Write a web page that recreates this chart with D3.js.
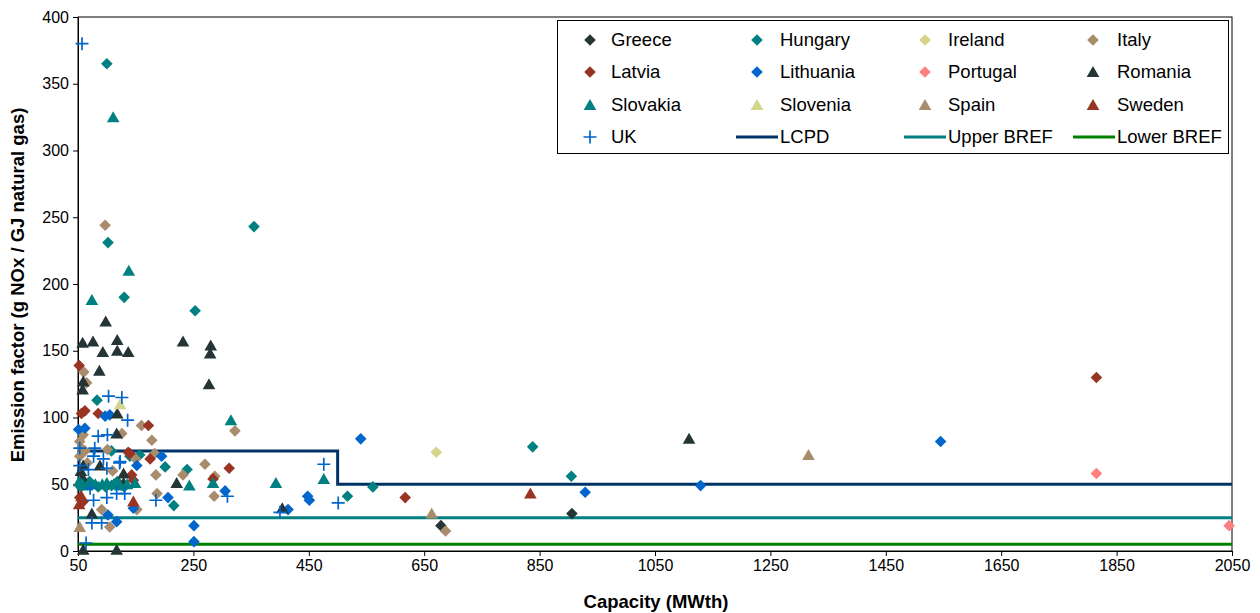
<!DOCTYPE html>
<html>
<head>
<meta charset="utf-8">
<script src="https://cdn.jsdelivr.net/npm/d3@7"></script>
<style>
  html, body { margin: 0; padding: 0; background: #fff; }
  svg { display: block; font-family: Arial, "Liberation Sans", sans-serif; }
</style>
</head>
<body>
<svg id="chart" width="1260" height="613"></svg>
<script>
// ---- Data (capacity MWth, emission factor g NOx/GJ) ----
const xTicks = [50, 250, 450, 650, 850, 1050, 1250, 1450, 1650, 1850, 2050];
const yTicks = [0, 50, 100, 150, 200, 250, 300, 350, 400];

const greece = [[906, 28], [679, 19]];
const hungary = [[100, 365], [102, 231], [130, 190], [253, 180], [355, 243], [83, 113], [108, 75], [157, 72],
  [140, 71], [201, 63], [239, 61], [216, 34], [517, 41], [561, 48], [838, 78], [905, 56],
  [55, 48], [70, 52], [85, 48], [98, 48], [108, 49], [130, 48], [62, 51], [118, 52]];
const ireland = [[671, 74]];
const italy = [[60, 134], [65, 126], [126, 88], [59, 87], [53, 82], [160, 94], [178, 83], [62, 75], [101, 76],
  [56, 77], [53, 71], [183, 73], [185, 57], [187, 43], [270, 65], [232, 57], [287, 56], [286, 41],
  [152, 31], [91, 31], [105, 18], [322, 90], [97, 244], [687, 15], [150, 69], [66, 66], [110, 60]];
const latvia = [[52, 139], [62, 105], [56, 103], [85, 103], [172, 94], [137, 74], [140, 73], [175, 69],
  [143, 57], [146, 53], [312, 62], [53, 40], [59, 37], [617, 40], [1815, 130], [284, 54]];
const lithuania = [[51, 91], [62, 92], [97, 101], [105, 102], [195, 71], [152, 64], [146, 32], [102, 27],
  [117, 22], [206, 40], [305, 45], [251, 19], [251, 7], [448, 41], [451, 38], [414, 31], [540, 84],
  [929, 44], [1129, 49], [1545, 82]];
const portugal = [[1815, 58], [2045, 19]];
const romania = [[87, 135], [59, 127], [58, 121], [98, 172], [58, 156], [76, 157], [93, 149], [118, 158],
  [118, 150], [137, 149], [232, 157], [280, 154], [279, 148], [277, 125], [118, 103], [117, 88],
  [59, 64], [88, 64], [129, 58], [129, 51], [221, 51], [74, 28], [59, 1], [117, 1], [404, 32],
  [1109, 84], [55, 60], [58, 55]];
const slovakia = [[111, 325], [138, 210], [74, 188], [315, 98], [393, 51], [476, 54], [243, 49], [284, 51],
  [149, 51], [52, 52], [58, 50], [66, 49], [80, 50], [92, 50], [100, 51], [112, 50], [123, 49], [135, 50]];
const slovenia = [[123, 110]];
const spain = [[53, 18], [663, 28], [1316, 72]];
const sweden = [[56, 41], [146, 37], [834, 43], [52, 35]];
const uk = [[57, 380], [103, 116], [126, 115], [85, 86], [101, 87], [136, 98], [53, 77], [79, 77], [53, 64],
  [77, 71], [94, 69], [122, 66], [68, 61], [100, 62], [71, 47], [131, 43], [117, 43], [100, 40],
  [77, 38], [185, 38], [74, 21], [91, 21], [64, 6], [309, 41], [476, 65], [501, 36], [400, 29], [123, 67]];

const lcpd = [[50, 75], [500, 75], [500, 50], [2050, 50]];
const upperBref = [[50, 25], [2050, 25]];
const lowerBref = [[50, 5], [2050, 5]];

const seriesNames = ["Greece", "Hungary", "Ireland", "Italy", "Latvia", "Lithuania", "Portugal", "Romania",
  "Slovakia", "Slovenia", "Spain", "Sweden", "UK"];
const seriesData = [greece, hungary, ireland, italy, latvia, lithuania, portugal, romania,
  slovakia, slovenia, spain, sweden, uk];
const seriesShapes = ["diamond", "diamond", "diamond", "diamond", "diamond", "diamond", "diamond", "triangle",
  "triangle", "triangle", "triangle", "triangle", "cross"];
const seriesColors = ["#253535", "#008080", "#d4d48a", "#a88c6c", "#993322", "#0066cc", "#ff8080", "#253535",
  "#008080", "#d4d48a", "#a88c6c", "#993322", "#0066cc"];

const lineNames = ["LCPD", "Upper BREF", "Lower BREF"];
const lineData = [lcpd, upperBref, lowerBref];
const lineColors = ["#003366", "#008080", "#008000"];

// ---- Layout ----
const svg = d3.select("#chart");
const L = 78, R = 1232, T = 17, B = 551;
const x = d3.scaleLinear().domain([50, 2050]).range([L, R]);
const y = d3.scaleLinear().domain([0, 400]).range([B, T]);

function shapePath(shape) {
  if (shape === "diamond") return "M0,-5.8L5.8,0L0,5.8L-5.8,0Z";
  if (shape === "triangle") return "M0,-6L6.3,5L-6.3,5Z";
  return "M-6.5,0H6.5M0,-6.5V6.5";
}

// plot border
svg.append("rect").attr("x", L).attr("y", T).attr("width", R - L).attr("height", B - T)
  .attr("fill", "none").attr("stroke", "#000").attr("stroke-width", 1);

// axes
const xAxis = svg.append("g").attr("transform", `translate(0,${B})`)
  .call(d3.axisBottom(x).tickValues(xTicks).tickSize(5).tickPadding(4).tickFormat(d3.format("d")));
const yAxis = svg.append("g").attr("transform", `translate(${L},0)`)
  .call(d3.axisLeft(y).tickValues(yTicks).tickSize(5).tickPadding(4).tickFormat(d3.format("d")));
[xAxis, yAxis].forEach(g => {
  g.selectAll("path.domain").attr("stroke", "#000");
  g.selectAll("line").attr("stroke", "#000");
  g.selectAll("text").attr("font-size", 16).attr("fill", "#000")
    .attr("font-family", "Arial, 'Liberation Sans', sans-serif");
});

// axis titles
svg.append("text").attr("x", 656).attr("y", 608).attr("text-anchor", "middle")
  .attr("font-size", 18.5).attr("font-weight", "bold").text("Capacity (MWth)");
svg.append("text").attr("transform", `translate(24,${(T + B) / 2 + 1}) rotate(-90)`).attr("text-anchor", "middle")
  .attr("font-size", 18.5).attr("font-weight", "bold").text("Emission factor (g NOx / GJ natural gas)");

// reference lines
const line = d3.line().x(d => x(d[0])).y(d => y(d[1]));
lineData.forEach((d, i) => {
  svg.append("path").datum(d).attr("d", line).attr("fill", "none")
    .attr("stroke", lineColors[i]).attr("stroke-width", 3);
});

// markers
seriesData.forEach((data, i) => {
  const shape = seriesShapes[i];
  const g = svg.append("g");
  g.selectAll("path").data(data).join("path")
    .attr("transform", d => `translate(${x(d[0])},${y(d[1])})`)
    .attr("d", shapePath(shape))
    .attr("fill", shape === "cross" ? "none" : seriesColors[i])
    .attr("stroke", shape === "cross" ? seriesColors[i] : "none")
    .attr("stroke-width", shape === "cross" ? 1.7 : 0);
});

// legend
const lg = svg.append("g");
lg.append("rect").attr("x", 557.5).attr("y", 20.5).attr("width", 671).attr("height", 133)
  .attr("fill", "#fff").attr("stroke", "#000").attr("stroke-width", 1);
const colMarkerX = [590, 757, 925, 1093];
const colTextX = [611, 780, 948, 1117];
const rowY = [40, 72, 105, 137];
const legendItems = seriesNames.map((n, i) => ({ name: n, type: "marker", idx: i }))
  .concat(lineNames.map((n, i) => ({ name: n, type: "line", idx: i })));
legendItems.forEach((it, k) => {
  const r = Math.floor(k / 4), c = k % 4;
  const cy = rowY[r];
  if (it.type === "marker") {
    const shape = seriesShapes[it.idx];
    lg.append("path").attr("transform", `translate(${colMarkerX[c]},${cy})`)
      .attr("d", shapePath(shape))
      .attr("fill", shape === "cross" ? "none" : seriesColors[it.idx])
      .attr("stroke", shape === "cross" ? seriesColors[it.idx] : "none")
      .attr("stroke-width", shape === "cross" ? 1.7 : 0);
  } else {
    lg.append("line").attr("x1", colTextX[c] - 44).attr("x2", colTextX[c] - 2)
      .attr("y1", cy).attr("y2", cy).attr("stroke", lineColors[it.idx]).attr("stroke-width", 3);
  }
  lg.append("text").attr("x", colTextX[c]).attr("y", cy).attr("dy", "0.35em")
    .attr("font-size", 18.5).attr("fill", "#000").text(it.name);
});
</script>
</body>
</html>
